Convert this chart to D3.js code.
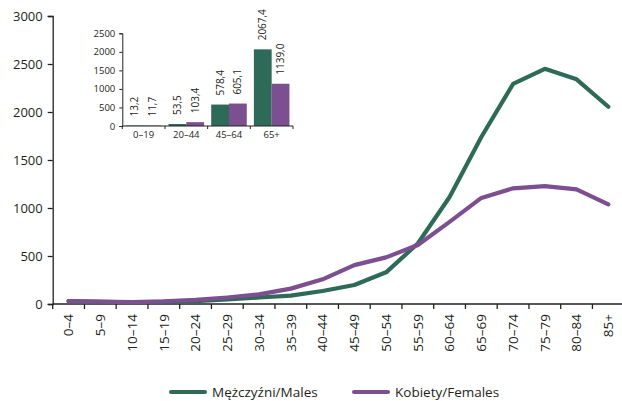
<!DOCTYPE html>
<html><head><meta charset="utf-8">
<script src="https://cdn.jsdelivr.net/npm/d3@7"></script>
<style>
html,body{margin:0;padding:0;background:#fff;}
svg{display:block;font-family:"Open Sans",sans-serif;}
</style></head>
<body>
<script>
const categories = ["0–4","5–9","10–14","15–19","20–24","25–29","30–34","35–39","40–44","45–49","50–54","55–59","60–64","65–69","70–74","75–79","80–84","85+"];
const males   = [30,22,18,22,30,48,68,87,135,198,330,630,1115,1740,2292,2450,2340,2055];
const females = [30,24,20,27,42,68,100,160,257,405,486,615,855,1105,1205,1228,1194,1038];
const yTicks = [0,500,1000,1500,2000,2500,3000];

const insetCats = ["0–19","20–44","45–64","65+"];
const insetMales   = [13.2,53.5,578.4,2067.4];
const insetFemales = [11.7,103.4,605.1,1139.0];
const insetYTicks = [0,500,1000,1500,2000,2500];

const seriesNames = ["Mężczyźni/Males","Kobiety/Females"];
const colors = ["#2e6a58","#7c4f91"];

const W = 622, H = 401;
const svg = d3.select("body").append("svg").attr("width",W).attr("height",H);

// main scales
const x = d3.scaleBand().domain(categories).range([52.7, 52.7 + 18*31.75]);
const y = d3.scaleLinear().domain([0,3000]).range([304,16]);

// y axis
const gy = svg.append("g").attr("transform","translate(52.7,0)")
  .call(d3.axisLeft(y).tickValues(yTicks).tickSize(5).tickPadding(5).tickFormat(d3.format("d")));
gy.select(".domain").attr("stroke","#222").attr("stroke-width",1.3);
gy.selectAll(".tick line").attr("stroke","#222").attr("stroke-width",1.3);
gy.selectAll("text").attr("font-size",13).attr("fill","#231f20").attr("font-family","Open Sans");

// x axis
const gx = svg.append("g").attr("transform","translate(0,304)");
gx.append("line").attr("x1",x.range()[0]).attr("x2",x.range()[1]+4).attr("stroke","#222").attr("stroke-width",1.3);
const bounds = categories.map(c=>x(c)).concat([x(categories[categories.length-1])+x.bandwidth()]);
gx.selectAll("line.tk").data(bounds).join("line").attr("class","tk")
  .attr("x1",d=>d).attr("x2",d=>d).attr("y1",0).attr("y2",5).attr("stroke","#222").attr("stroke-width",1.3);
gx.selectAll("text").data(categories).join("text")
  .attr("transform",d=>`translate(${x(d)+x.bandwidth()/2+4.7},10) rotate(-90)`)
  .attr("text-anchor","end").attr("font-size",13.5).attr("fill","#231f20")
  .text(d=>d);

// lines
const line = d3.line().x((d,i)=>x(categories[i])+x.bandwidth()/2).y(d=>y(d));
[males,females].forEach((s,k)=>{
  svg.append("path").datum(s).attr("d",line).attr("fill","none")
    .attr("stroke",colors[k]).attr("stroke-width",4.2).attr("stroke-linejoin","round").attr("stroke-linecap","round");
});

// legend
const lg = svg.append("g");
const legX = [171, 354];
seriesNames.forEach((n,k)=>{
  lg.append("line").attr("x1",legX[k]).attr("x2",legX[k]+34).attr("y1",392).attr("y2",392)
    .attr("stroke",colors[k]).attr("stroke-width",4).attr("stroke-linecap","round");
  lg.append("text").attr("x",legX[k]+41).attr("y",397).attr("font-size",13.5).attr("fill","#231f20").text(n);
});

// inset
const xi = d3.scaleBand().domain(insetCats).range([122.3, 293]);
const xs = d3.scaleBand().domain(["M","F"]).range([0, xi.bandwidth()]).paddingOuter(0.2);
const yi = d3.scaleLinear().domain([0,2500]).range([126,33.3]);
const ins = svg.append("g");
const gyi = ins.append("g").attr("transform","translate(122.3,0)")
  .call(d3.axisLeft(yi).tickValues(insetYTicks).tickSize(3).tickPadding(4).tickFormat(d3.format("d")));
gyi.select(".domain").attr("stroke","#222").attr("stroke-width",1);
gyi.selectAll(".tick line").attr("stroke","#222");
gyi.selectAll("text").attr("font-size",9.5).attr("fill","#231f20").attr("font-family","Open Sans");

const insetData = insetCats.map((c,i)=>({c, vals:[insetMales[i], insetFemales[i]]}));
const grp = ins.selectAll("g.grp").data(insetData).join("g").attr("class","grp")
  .attr("transform",d=>`translate(${xi(d.c)},0)`);
grp.selectAll("rect").data(d=>d.vals.map((v,k)=>({v,k}))).join("rect")
  .attr("x",d=>xs(d.k?"F":"M")).attr("width",xs.bandwidth())
  .attr("y",d=>yi(d.v)).attr("height",d=>yi(0)-yi(d.v))
  .attr("fill",d=>colors[d.k]);
grp.selectAll("text.val").data(d=>d.vals.map((v,k)=>({v,k}))).join("text").attr("class","val")
  .attr("transform",d=>`translate(${xs(d.k?"F":"M")+xs.bandwidth()/2+3.5},${yi(d.v)-9}) rotate(-90)`)
  .attr("font-size",10).attr("fill","#231f20")
  .text(d=>d3.format(".1f")(d.v).replace(".",","));

const gxi = ins.append("g").attr("transform","translate(0,126)");
gxi.append("line").attr("x1",122.3).attr("x2",293).attr("stroke","#222").attr("stroke-width",1);
const ib = insetCats.map(c=>xi(c)).concat([293]);
gxi.selectAll("line.tk").data(ib).join("line").attr("class","tk")
  .attr("x1",d=>d).attr("x2",d=>d).attr("y1",0).attr("y2",3).attr("stroke","#222");
gxi.selectAll("text").data(insetCats).join("text")
  .attr("x",d=>xi(d)+xi.bandwidth()/2).attr("y",12).attr("text-anchor","middle")
  .attr("font-size",9.5).attr("fill","#231f20").text(d=>d);
</script>
</body></html>
